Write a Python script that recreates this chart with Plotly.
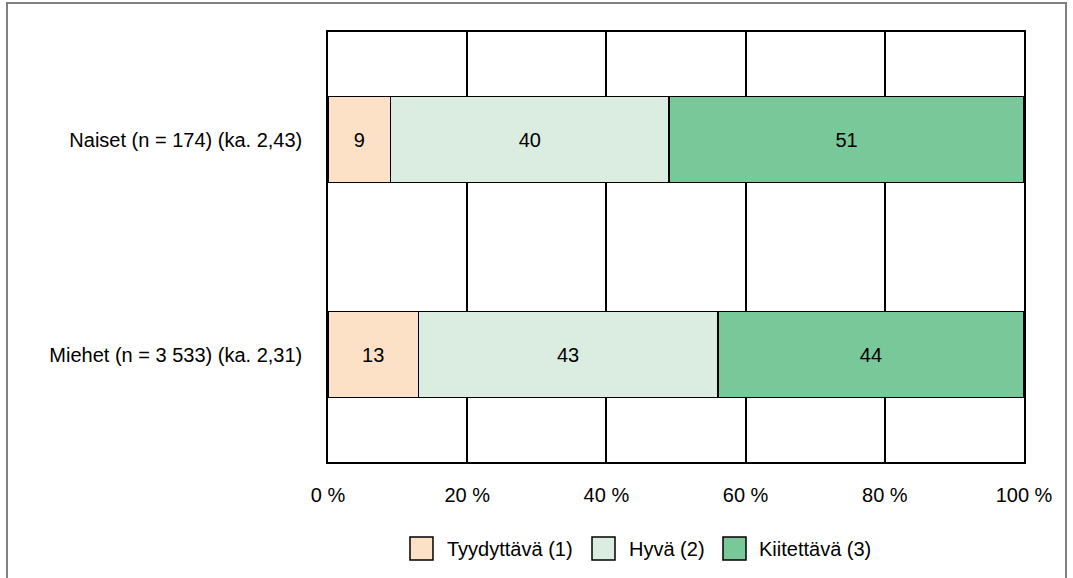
import plotly.graph_objects as go

# Survey groups (top to bottom) and the grade categories
groups = ["Naiset (n = 174) (ka. 2,43)", "Miehet (n = 3 533) (ka. 2,31)"]
grades = ["Tyydyttävä (1)", "Hyvä (2)", "Kiitettävä (3)"]

# Share of each grade per group, in percent
tyydyttava = [9, 13]
hyva = [40, 43]
kiitettava = [51, 44]

x_ticks = [0, 20, 40, 60, 80, 100]
x_tick_labels = ["0 %", "20 %", "40 %", "60 %", "80 %", "100 %"]

colors = ["#FCE1C6", "#DBEDE1", "#78C89A"]
series = [tyydyttava, hyva, kiitettava]

FONT = "Liberation Sans, Arial, sans-serif"
FS = 20
W, H = 1073, 578
L, R, T, B = 328, 49, 32, 116
PW, PH = W - L - R, H - T - B

fig = go.Figure()
for name, vals, col in zip(grades, series, colors):
    fig.add_trace(go.Bar(
        name=name, y=groups, x=vals, orientation="h",
        marker=dict(color=col, line=dict(color="black", width=1.5)),
        text=[str(v) for v in vals], textposition="inside",
        insidetextanchor="middle", textangle=0, constraintext="none",
        textfont=dict(family=FONT, size=FS, color="black"),
        width=0.4, showlegend=False, hoverinfo="x+name",
    ))

# Legend drawn as boxes and labels below the plot
def px_x(p):
    return (p - L) / PW

def px_y(p):
    return (H - B - p) / PH

legend_items = [(410, 445), (592, 627), (723, 757)]
shapes = []
annotations = []
for (bx, tx), name, col in zip(legend_items, grades, colors):
    shapes.append(dict(type="rect", xref="paper", yref="paper",
                       x0=px_x(bx), x1=px_x(bx + 23), y0=px_y(537), y1=px_y(560),
                       fillcolor=col, line=dict(color="black", width=1.5)))
    annotations.append(dict(xref="paper", yref="paper", x=px_x(tx), y=px_y(549),
                            xanchor="left", yanchor="middle", showarrow=False,
                            text=name, font=dict(family=FONT, size=FS, color="black")))

# Outer frame around the whole chart
shapes.append(dict(type="rect", xref="paper", yref="paper",
                   x0=px_x(7), x1=px_x(1066), y0=px_y(600), y1=px_y(3),
                   line=dict(color="#808080", width=2), fillcolor="rgba(0,0,0,0)",
                   layer="below"))

fig.update_layout(
    barmode="stack",
    width=W, height=H,
    margin=dict(l=L, r=R, t=T, b=B, pad=0),
    paper_bgcolor="white", plot_bgcolor="white",
    font=dict(family=FONT, size=FS, color="black"),
    shapes=shapes, annotations=annotations,
    xaxis=dict(range=[0, 100], tickmode="array", tickvals=x_ticks, ticktext=x_tick_labels,
               showgrid=True, gridcolor="black", gridwidth=1.5,
               showline=True, linecolor="black", linewidth=1.5, mirror=True,
               zeroline=False, ticks="", ticklabelstandoff=14,
               tickfont=dict(family=FONT, size=FS, color="black")),
    yaxis=dict(categoryorder="array", categoryarray=groups[::-1],
               range=[-0.5, 1.5], showgrid=False,
               showline=True, linecolor="black", linewidth=1.5, mirror=True,
               zeroline=False, ticks="", ticklabelstandoff=20,
               tickfont=dict(family=FONT, size=FS, color="black")),
)

fig.write_html("out.html")
